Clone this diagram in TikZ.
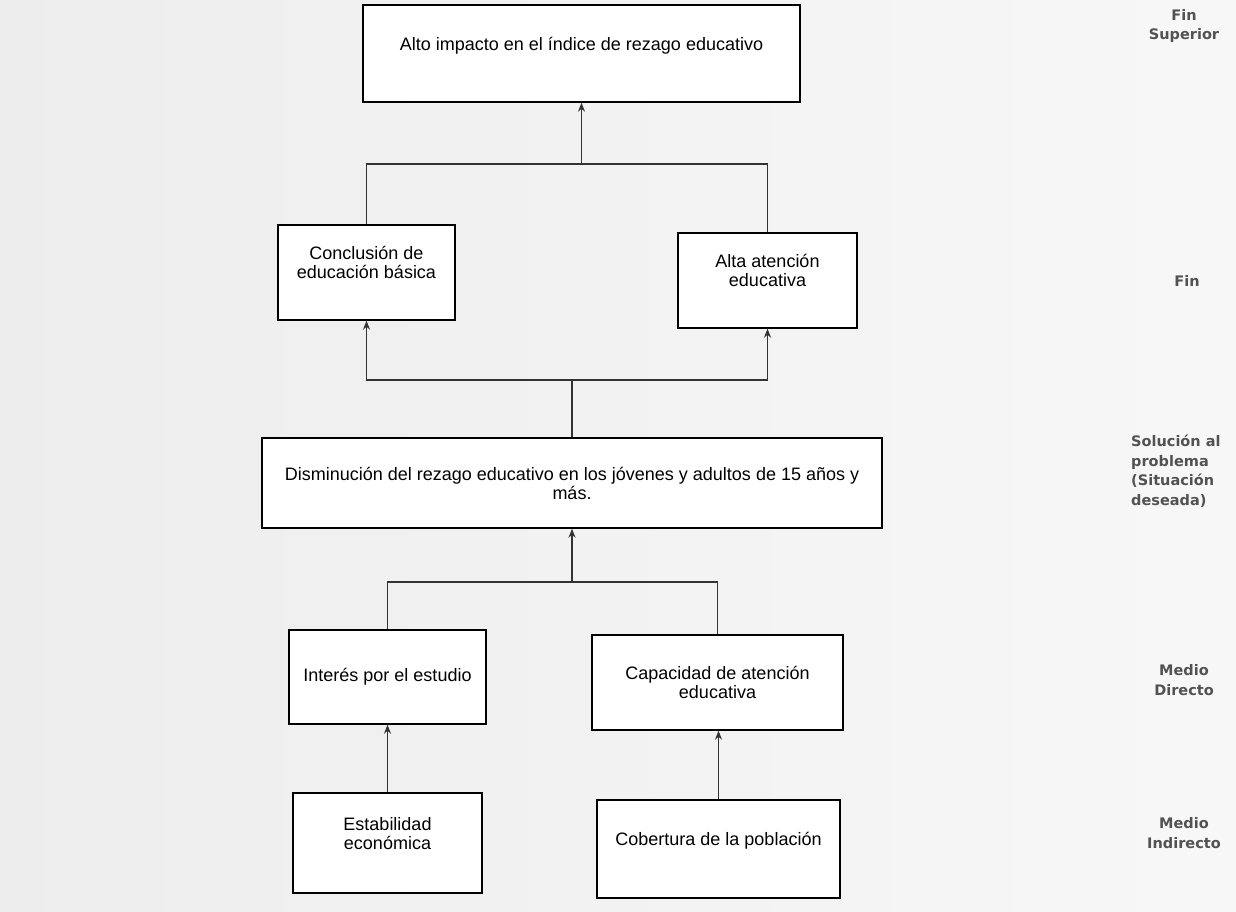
\documentclass[tikz,border=0pt]{standalone}
\usepackage{fontspec}
\setmainfont{Liberation Sans}
\newfontfamily\sidefont{DejaVu Sans}
\usetikzlibrary{arrows.meta}

\begin{document}
\begin{tikzpicture}
        [x=1pt, y=-1pt, >={Stealth[length=9pt, width=7pt]},
         font=\fontsize{18}{19}\selectfont,
         goal/.style={rectangle, draw=black, line width=1.4pt, fill=white, align=center, inner sep=2pt},
         uptext/.style={text depth=20pt},
         conn/.style={draw=black!80, line width=1.2pt},
         side/.style={text=black!68, align=center, inner sep=0pt, font=\sidefont\bfseries\fontsize{14.5}{19.5}\selectfont}]

        \shade[left color=gray!14, right color=gray!6] (0, 0) rectangle (1236, 911);
        \useasboundingbox (0, 0) rectangle (1236, 911);

        \node[goal, uptext, minimum width=437pt, minimum height=97pt] (alto) at (581.5, 53.5) {Alto impacto en el índice de rezago educativo};

        \node[goal, uptext, minimum width=177pt, minimum height=95pt] (concl) at (366.5, 272.5) {Conclusión de\\educación básica};
        \node[goal, uptext, minimum width=179pt, minimum height=95pt] (alta) at (767.5, 280.5) {Alta atención\\educativa};

        \node[goal, minimum width=620pt, minimum height=90pt] (dismin) at (572, 483) {Disminución del rezago educativo en los jóvenes y adultos de 15 años y\\más.};

        \node[goal, minimum width=197pt, minimum height=94pt] (interes) at (387.5, 677) {Interés por el estudio};
        \node[goal, minimum width=251pt, minimum height=95pt] (capac) at (717.5, 682.5) {Capacidad de atención\\educativa};

        \node[goal, uptext, minimum width=189pt, minimum height=100pt] (estab) at (387.5, 843) {Estabilidad\\económica};
        \node[goal, uptext, minimum width=243pt, minimum height=98pt] (cobert) at (718.5, 849) {Cobertura de la población};

        \coordinate (j_top) at (581.5, 164);
        \coordinate (j_mid) at (572, 380);
        \coordinate (j_low) at (572, 582);

        \draw[conn] (concl.north) |- (j_top) -| (alta.north);
        \draw[conn, ->] (j_top) -- (alto.south);

        \draw[conn] (dismin.north) -- (j_mid);
        \draw[conn, ->] (j_mid) -| (concl.south);
        \draw[conn, ->] (j_mid) -| (alta.south);

        \draw[conn] (interes.north) |- (j_low) -| (capac.north);
        \draw[conn, ->] (j_low) -- (dismin.south);

        \draw[conn, ->] (estab.north) -- (interes.south);
        \draw[conn, ->] (cobert.north) -- (cobert.north |- capac.south);

        \node[side] (fin_sup) at (1184, 26) {Fin\\Superior};
        \node[side] (fin) at (1187, 281) {Fin};
        \node[side, align=left, anchor=west] (solucion) at (1131, 471) {Solución al\\problema\\(Situación\\deseada)};
        \node[side] (medio_dir) at (1184, 680) {Medio\\Directo};
        \node[side] (medio_ind) at (1184, 833) {Medio\\Indirecto};
    \end{tikzpicture}
\end{document}
